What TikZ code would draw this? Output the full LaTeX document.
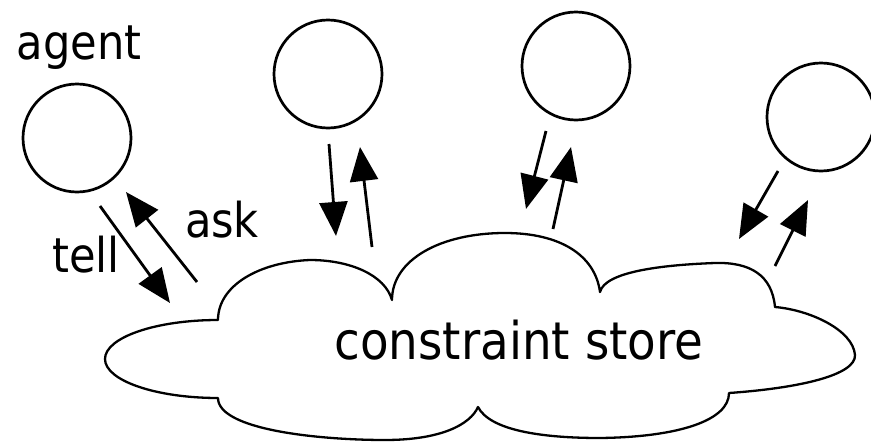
\documentclass[tikz,border=0pt]{standalone}
\usepackage{fontspec}
\usepackage{graphicx}
\setmainfont{DejaVu Sans}
\usetikzlibrary{arrows.meta}

\tikzset{
  agentnode/.style={circle, draw, line width=2.7pt, minimum size=108pt, inner sep=0pt},
  flow/.style={line width=2.8pt, -{Triangle[length=34pt,width=28pt]}},
  cloudline/.style={draw, fill=white, line width=2.3pt, line join=round},
  lbl/.style={anchor=base, inner sep=0pt, font=\fontsize{48}{56}\selectfont},
  storelbl/.style={anchor=base, inner sep=0pt, font=\fontsize{52}{60}\selectfont}
}

\begin{document}
\begin{tikzpicture}[x=1pt, y=-1pt]
  \useasboundingbox (0,0) rectangle (871,442);

  % agents
  \node[agentnode] (a1) at (77,138) {};
  \node[agentnode] (a2) at (328,74) {};
  \node[agentnode] (a3) at (576,66) {};
  \node[agentnode] (a4) at (821,117) {};

  % constraint store cloud
  \draw[cloudline]
    (218,320) .. controls (155.6,320) and (105,337.5) .. (105,359)
              .. controls (105,380.5) and (155.6,398) .. (218,398)
              .. controls (218,430) and (320,440) .. (385,440)
              .. controls (440,440) and (470,425) .. (478,407)
              .. controls (490,430) and (540,438) .. (600,438)
              .. controls (680,437) and (729,420) .. (729,393)
              .. controls (800,388) and (856,375) .. (855,355)
              .. controls (853,330) and (810,310) .. (775,307)
              .. controls (772,275) and (750,262) .. (715,263)
              .. controls (660,265) and (605,272) .. (600,292)
              .. controls (595,255) and (560,233) .. (505,233)
              .. controls (440,233) and (392,260) .. (392,300)
              .. controls (385,275) and (350,260) .. (310,260)
              .. controls (260,262) and (218,285) .. (218,320) -- cycle;
  \node[storelbl] (store) at (519,359) {\scalebox{0.9}[1]{constraint store}};

  % labels
  \node[lbl] (agentlbl) at (79,59) {\scalebox{0.9}[1]{agent}};
  \node[lbl] (telllbl) at (86,272) {\scalebox{0.9}[1]{tell}};
  \node[lbl] (asklbl) at (222,237) {\scalebox{0.9}[1]{ask}};

  % arrow end points
  \coordinate (t1s) at (100,206);  \coordinate (t1e) at (170,303);
  \coordinate (k1s) at (197,282);  \coordinate (k1e) at (126,192);
  \coordinate (t2s) at (329,144);  \coordinate (t2e) at (336,236);
  \coordinate (k2s) at (372,247);  \coordinate (k2e) at (360,147);
  \coordinate (t3s) at (546,131);  \coordinate (t3e) at (526,209);
  \coordinate (k3s) at (553,229);  \coordinate (k3e) at (571,147);
  \coordinate (t4s) at (778,171);  \coordinate (t4e) at (739,239);
  \coordinate (k4s) at (775,266);  \coordinate (k4e) at (808,200);

  % tell / ask arrows
  \draw[flow] (t1s) -- (t1e);
  \draw[flow] (k1s) -- (k1e);
  \draw[flow] (t2s) -- (t2e);
  \draw[flow] (k2s) -- (k2e);
  \draw[flow] (t3s) -- (t3e);
  \draw[flow] (k3s) -- (k3e);
  \draw[flow] (t4s) -- (t4e);
  \draw[flow] (k4s) -- (k4e);
\end{tikzpicture}
\end{document}
